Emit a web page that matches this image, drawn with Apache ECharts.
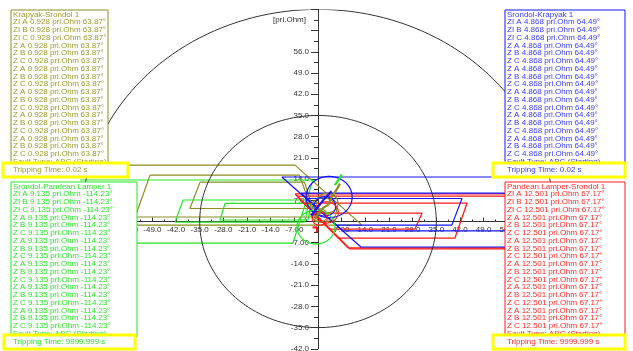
<!DOCTYPE html>
<html>
<head>
<meta charset="utf-8">
<script src="https://cdn.jsdelivr.net/npm/echarts@6/dist/echarts.min.js"></script>
<style>
html,body{margin:0;padding:0;background:#fff;}
#chart{width:633px;height:351px;}
</style>
</head>
<body>
<div id="chart"></div>
<script>
// ---- axes (R-X impedance plane, primary ohms) ----
const xRange = [-70, 70];
const yRange = [-42, 70];
const tickStep = 7;
const unitLabel = '[pri.Ohm]';

// ---- reference circles centred on the origin (radius) ----
const refCircleRadii = [70, 35];

// ---- relay legends ----
const relayTitles = ['Krapyak-Srondol 1', 'Srondol-Krapyak 1', 'Srondol-Pandean Lamper 1', 'Pandean Lamper-Srondol 1'];
const relayZ = ['0.928', '4.868', '9.135', '12.501'];
const relayAngle = ['63.87°', '64.49°', '-114.23°', '67.17°'];
const relayTrip = ['0.02 s', '0.02 s', '9999.999 s', '9999.999 s'];
const faultType = 'ABC (Starting)';
const rowPrefixes = ['ZI A', 'ZI B', 'ZI C', 'Z A', 'Z B', 'Z C', 'Z A', 'Z B', 'Z C',
                     'Z A', 'Z B', 'Z C', 'Z A', 'Z B', 'Z C', 'Z A', 'Z B', 'Z C'];

// ---- zone characteristics, polygons of [R, X] vertices ----
const olivePolys = [
  [[-80, 18.6], [-6.8, 18.6], [13.0, -1.2], [-80, -1.2]],
  [[-49.7, 15.3], [-5.5, 15.3], [-1.0, 1.5], [-54.1, 1.5]],
  [[-34.9, 13.0], [-4.0, 13.0], [-1.5, 4.3], [-37.9, 4.3]]
];
const bluePolys = [
  [[-10.7, 14.7], [80, 14.7], [80, -8.4], [12.7, -8.4]],
  [[-5.1, 9.4], [80, 9.4], [80, -3.1], [7.4, -3.1]],
  [[-3.3, 7.6], [42.6, 7.6], [39.6, -1.2], [5.5, -1.2]]
];
const greenPolys = [
  [[-80, 13.7], [-1.5, 13.7], [-7.4, -7.1], [-80, -7.1]],
  [[-39.9, 7.1], [-2.5, 7.1], [-4.0, -0.2], [-42.3, -0.2]],
  [[-27.5, 6.0], [-2.0, 6.0], [-3.0, 0.5], [-29.0, 0.5]]
];
const redPolys = [
  [[-6.8, 9.1], [80, 9.1], [80, -8.7], [8.9, -8.7]],
  [[-6.2, 8.4], [80, 8.4], [80, -9.0], [9.4, -9.0]],
  [[-4.2, 6.1], [44.1, 6.1], [40.5, -5.5], [6.1, -5.5]],
  [[-1.2, 2.8], [30.8, 2.8], [28.7, -2.5], [3.4, -2.5]]
];

// ---- mho circles [centre R, centre X, radius] ----
const oliveCircles = [[2.7, 6.1, 3.2], [1.5, 3.8, 4.0], [0.5, 2.0, 2.2]];
const blueCircles = [[3.3, 8.1, 6.8], [2.0, 5.0, 3.2]];
const greenCircles = [[-0.6, -1.8, 5.6]];
const redCircles = [[2.5, 3.0, 3.5], [0.5, 1.0, 2.2]];

// ---- impedance trajectories [R, X] ----
const oliveTrace = [[-1.0, 1.0], [1.5, 4.5], [3.0, 5.5], [4.0, 8.0], [5.5, 10.5], [6.5, 12.5]];
const greenTrace = [[5.0, 12.0], [6.5, 14.5], [7.0, 15.5]];
const blueTrace = [[-2.0, 2.0], [1.5, 7.0], [4.0, 10.0]];
const redTrace = [[-1.6, -1.9], [-0.3, -1.9], [-0.3, -3.6]];

const COLORS = {
  olive: '#8c8c22', oliveText: '#9b9b2e',
  blue: '#1515ff', blueText: '#3b3bff',
  green: '#22e622', greenText: '#2fe02f',
  red: '#ff1a1a', redText: '#ff2a2a',
  yellow: '#ffff00'
};

// plot frame in pixels
const GRID = { left: 81.4, right: 78.4, top: 9.4, bottom: 2.2 };
const W = 633, H = 351;
const plotW = W - GRID.left - GRID.right, plotH = H - GRID.top - GRID.bottom;
const zeroXpx = GRID.left + (0 - xRange[0]) / (xRange[1] - xRange[0]) * plotW;
const zeroYpx = GRID.top + (yRange[1] - 0) / (yRange[1] - yRange[0]) * plotH;

function fmtTick(v) {
  if (v === 0) return '';
  return Math.abs(v) < 10 ? v.toFixed(2) : v.toFixed(1);
}

function polySeries(polys, color, width) {
  return polys.map(p => ({
    type: 'line',
    data: p.concat([p[0]]),
    showSymbol: false, symbol: 'none', silent: true,
    lineStyle: { color: color, width: width || 1.2 },
    z: 3, animation: false
  }));
}

function circleSeries(circles, color, width) {
  return {
    type: 'custom',
    data: circles,
    silent: true, animation: false, z: 4,
    clip: true,
    renderItem: function (params, api) {
      const cx = api.value(0), cy = api.value(1), r = api.value(2);
      const pts = [];
      for (let i = 0; i <= 180; i++) {
        const a = i / 180 * Math.PI * 2;
        pts.push(api.coord([cx + r * Math.cos(a), cy + r * Math.sin(a)]));
      }
      return {
        type: 'polyline',
        shape: { points: pts },
        style: { fill: null, stroke: color, lineWidth: width || 1.2 }
      };
    }
  };
}

function traceSeries(pts, color) {
  return {
    type: 'line', data: pts, showSymbol: false, symbol: 'none', silent: true,
    lineStyle: { color: color, width: 2.2 }, z: 5, animation: false
  };
}

function legendBox(i, x, y, w, h, yx, yy, yw, yh, color, textColor) {
  const lines = [relayTitles[i]];
  rowPrefixes.forEach(p => lines.push(p + ' ' + relayZ[i] + ' pri.Ohm ' + relayAngle[i]));
  lines.push('Fault Type: ' + faultType);
  return {
    type: 'group', z: 100,
    children: [
      { type: 'rect', shape: { x: x, y: y, width: w, height: h },
        style: { fill: '#fff', stroke: color, lineWidth: 1 }, z: 100 },
      { type: 'text', x: x + 2, y: y + 0.5, z: 101,
        style: { text: lines.join('\n'), fill: textColor, font: '8px "Liberation Sans", Arial, sans-serif',
                 lineHeight: 7.75, textVerticalAlign: 'top' } },
      { type: 'rect', shape: { x: yx, y: yy, width: yw, height: yh },
        style: { fill: '#fff', stroke: COLORS.yellow, lineWidth: 3 }, z: 102 },
      { type: 'text', x: x + 2, y: yy + yh / 2, z: 103,
        style: { text: 'Tripping Time: ' + relayTrip[i], fill: textColor,
                 font: '8px "Liberation Sans", Arial, sans-serif', textVerticalAlign: 'middle' } }
    ]
  };
}

const chart = echarts.init(document.getElementById('chart'), null, { renderer: 'canvas' });

const series = [];
refCircleRadii.forEach(r => series.push(circleSeries([[0, 0, r]], '#333', 1)));
series.push(...polySeries(olivePolys, COLORS.olive));
series.push(...polySeries(greenPolys, COLORS.green));
series.push(...polySeries(redPolys, COLORS.red, 1.3));
series.push(...polySeries(bluePolys, COLORS.blue));
series.push(circleSeries(oliveCircles, COLORS.olive));
series.push(circleSeries(blueCircles, COLORS.blue));
series.push(circleSeries(greenCircles, COLORS.green));
series.push(circleSeries(redCircles, COLORS.red));
series.push(traceSeries(oliveTrace, COLORS.olive));
series.push(traceSeries(greenTrace, COLORS.green));
series.push(traceSeries(blueTrace, COLORS.blue));
series.push(traceSeries(redTrace, COLORS.red));

const axisText = { color: '#333', fontSize: 8, fontFamily: '"Liberation Sans", Arial, sans-serif' };

chart.setOption({
  animation: false,
  backgroundColor: '#fff',
  grid: Object.assign({ containLabel: false, outerBoundsMode: 'none' }, GRID),
  xAxis: {
    type: 'value', min: xRange[0], max: xRange[1], interval: tickStep,
    position: 'bottom', offset: -(H - GRID.bottom - zeroYpx),
    axisLine: { onZero: false, lineStyle: { color: '#333', width: 1 } },
    axisTick: { show: true, inside: true, length: 4, lineStyle: { color: '#333' } },
    minorTick: { show: true, splitNumber: 2, length: 2, lineStyle: { color: '#333' } },
    axisLabel: Object.assign({ formatter: fmtTick, margin: 4 }, axisText),
    splitLine: { show: false }
  },
  yAxis: {
    type: 'value', min: yRange[0], max: yRange[1], interval: tickStep,
    position: 'left', offset: -(zeroXpx - GRID.left),
    axisLine: { onZero: false, lineStyle: { color: '#333', width: 1 } },
    axisTick: { show: true, length: 7, lineStyle: { color: '#333' } },
    minorTick: { show: true, splitNumber: 2, length: 4, lineStyle: { color: '#333' } },
    axisLabel: Object.assign({ formatter: v => (v >= 63 ? '' : fmtTick(v)), margin: 9 }, axisText),
    splitLine: { show: false }
  },
  series: series,
  graphic: [
    { type: 'text', x: 306, y: 20, z: 50,
      style: { text: unitLabel, fill: '#333', font: '8px "Liberation Sans", Arial, sans-serif',
               textAlign: 'right', textVerticalAlign: 'middle' } },
    legendBox(0, 11, 10, 97, 155, 3, 163, 125, 14, COLORS.olive, COLORS.oliveText),
    legendBox(1, 505, 10, 120, 155, 493, 163, 132, 14, COLORS.blue, COLORS.blueText),
    legendBox(2, 11, 182, 126, 155, 4, 335, 131, 14, COLORS.green, COLORS.greenText),
    legendBox(3, 505, 182, 120, 155, 493, 335, 132, 14, COLORS.red, COLORS.redText)
  ]
});
</script>
</body>
</html>
